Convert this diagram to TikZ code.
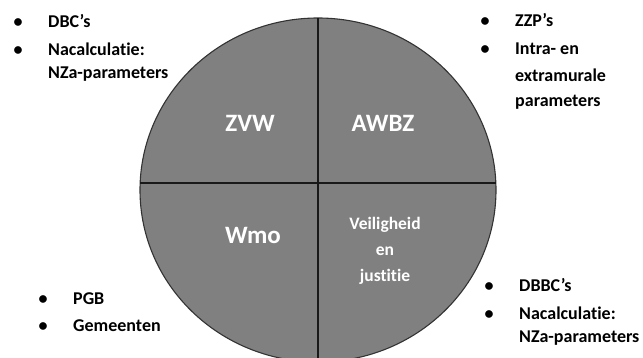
\documentclass[tikz,border=0pt]{standalone}
\usepackage{fontspec}
\setmainfont{Carlito}[Ligatures=NoCommon]
\usepackage{tikz}
\tikzstyle{rim} = [draw=black!80,line width=1.1pt,fill=black!50]
\tikzstyle{line} = [draw=black!90,line width=1.3pt]
\tikzstyle{sector} = [text=white,inner sep=0pt,font=\bfseries\fontsize{25}{30}\selectfont]
\tikzstyle{smallsector} = [text=white,inner sep=0pt,align=center,font=\bfseries\fontsize{17.5}{26}\selectfont]
\tikzstyle{list} = [anchor=base west,inner sep=0pt,font=\bfseries\fontsize{18}{23}\selectfont]

\begin{document}
\begin{tikzpicture}[x=1pt,y=-1pt]
                \useasboundingbox (0,0) rectangle (643,358);
                % the wheel with its four parts
                \path [rim] (318,190) ellipse [x radius=178, y radius=172];
                \begin{scope}
                    \clip (318,190) ellipse [x radius=178, y radius=172];
                    \path [line] (130,183) -- (510,183);
                    \path [line] (318,10) -- (318,370);
                \end{scope}
                \node[sector] (zvw) at (250,123) {ZVW};
                \node[sector] (awbz) at (383,123) {AWBZ};
                \node[sector] (wmo) at (253,235) {Wmo};
                \node[smallsector] (venj) at (385,251) {Veiligheid\\en\\justitie};
                % lists around the wheel
                \node[list] (zvwlist) at (13.5,28) {\begin{tabular}[t]{@{}p{34.5pt}@{}l@{}}
                    • & DBC’s\\[5pt]
                    • & Nacalculatie:\\
                      & NZa-parameters
                    \end{tabular}};
                \node[list] (awbzlist) at (480.5,27) {\begin{tabular}[t]{@{}p{34.5pt}@{}l@{}}
                    • & ZZP’s\\[5pt]
                    • & Intra- en\\[4pt]
                      & extramurale\\[2pt]
                      & parameters
                    \end{tabular}};
                \node[list] (wmolist) at (38.5,305) {\begin{tabular}[t]{@{}p{34.5pt}@{}l@{}}
                    • & PGB\\[4pt]
                    • & Gemeenten
                    \end{tabular}};
                \node[list] (venjlist) at (484.5,292) {\begin{tabular}[t]{@{}p{34.5pt}@{}l@{}}
                    • & DBBC’s\\[5pt]
                    • & Nacalculatie:\\
                      & NZa-parameters
                    \end{tabular}};
            \end{tikzpicture}
\end{document}
